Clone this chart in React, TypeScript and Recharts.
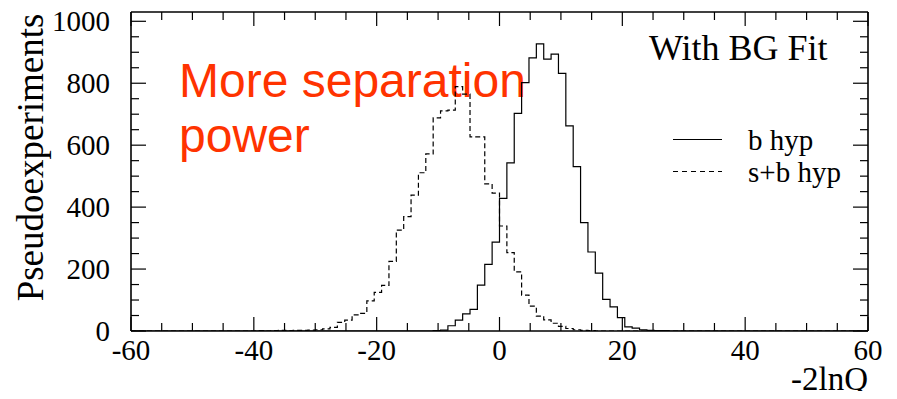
import React from 'react';
import { LineChart, Line, XAxis, YAxis } from 'recharts';

// histogram binning (100 bins from -60 to 60)
const xMin = -60;
const xMax = 60;
const binWidth = 1.2;
const nBins = 100;

// b hyp counts, first bin starts at -10.8
const bHypStart = -10.8;
const bHypCounts = [
  1, 3, 17, 35, 55, 70, 148, 215, 287,
  428, 543, 703, 802, 882, 927, 878, 894, 832, 662, 531, 350, 255, 187, 102, 78, 43, 13, 9, 4, 2, 1, 1,
];

// s+b hyp counts, first bin starts at -39.6
const sbHypStart = -39.6;
const sbHypCounts = [
  1, 0, 1, 2, 1, 2, 2, 3, 4, 7, 12, 28, 35, 52, 57, 97, 125, 147, 225, 326, 369, 439, 511, 572, 688, 711,
  713, 789, 765, 627, 627, 475, 445,
  339, 253, 191, 116, 80, 48, 36, 25, 15, 8, 4, 2, 1,
];

const seriesNames = ['b hyp', 's+b hyp'];

const xLabels = [-60, -40, -20, 0, 20, 40, 60];
const xMinorStep = 5;
const yLabels = [0, 200, 400, 600, 800, 1000];
const yMinorStep = 50;
const yMax = 1030;

const xTicks = Array.from({ length: (xMax - xMin) / xMinorStep + 1 }, (_, i) => xMin + i * xMinorStep);
const yTicks = Array.from({ length: 1000 / yMinorStep + 1 }, (_, i) => i * yMinorStep);

const firstBin = (start: number) => Math.round((start - xMin) / binWidth);

const data = Array.from({ length: nBins + 1 }, (_, i) => ({
  x: +(xMin + i * binWidth).toFixed(1),
  b: bHypCounts[i - firstBin(bHypStart)] ?? 0,
  sb: sbHypCounts[i - firstBin(sbHypStart)] ?? 0,
}));

const serif = '"Liberation Serif", "Times New Roman", serif';
const sans = '"Liberation Sans", Arial, sans-serif';
const tickColor = '#000';

const BottomTick = (props: any) => {
  const { x, y, payload } = props;
  const major = xLabels.includes(payload.value);
  return (
    <g>
      <line x1={x} x2={x} y1={y} y2={y - (major ? 14 : 8)} stroke={tickColor} strokeWidth={1.2} />
      {major && (
        <text x={x} y={y + 29} textAnchor="middle" fontSize={29} fontFamily={serif} fill="#000">
          {payload.value}
        </text>
      )}
    </g>
  );
};

// ticks on the top edge of the frame, pointing down
const TopTick = (props: any) => {
  const { x, y, payload } = props;
  const major = xLabels.includes(payload.value);
  return <line x1={x} x2={x} y1={y} y2={y + (major ? 14 : 8)} stroke={tickColor} strokeWidth={1.2} />;
};

const LeftTick = (props: any) => {
  const { x, y, payload } = props;
  const major = yLabels.includes(payload.value);
  return (
    <g>
      <line x1={x} x2={x + (major ? 15 : 8)} y1={y} y2={y} stroke={tickColor} strokeWidth={1.2} />
      {major && (
        <text x={x - 21} y={y + 10} textAnchor="end" fontSize={29} fontFamily={serif} fill="#000">
          {payload.value}
        </text>
      )}
    </g>
  );
};

const RightTick = (props: any) => {
  const { x, y, payload } = props;
  const major = yLabels.includes(payload.value);
  return <line x1={x} x2={x - (major ? 15 : 8)} y1={y} y2={y} stroke={tickColor} strokeWidth={1.2} />;
};

const axisLine = { stroke: '#000', strokeWidth: 1.6 };

const App: React.FC = () => {
  return (
    <div style={{ position: 'relative', width: 897, height: 399, margin: -8, background: '#fff' }}>
      <svg width={897} height={399} style={{ position: 'absolute', left: 0, top: 0 }}>
        <text x={179} y={97} fontSize={48} fontFamily={sans} fill="#ff3300">
          More separation
        </text>
        <text x={179} y={152} fontSize={48} fontFamily={sans} fill="#ff3300">
          power
        </text>
        <text x={649} y={60} fontSize={36} fontFamily={serif} fill="#000">
          With BG Fit
        </text>
        <line x1={673} x2={722} y1={139.5} y2={139.5} stroke="#000" strokeWidth={1.2} />
        <text x={748} y={150} fontSize={29} fontFamily={serif} fill="#000">
          {seriesNames[0]}
        </text>
        <line x1={673} x2={722} y1={171.5} y2={171.5} stroke="#000" strokeWidth={1.2} strokeDasharray="5 4" />
        <text x={748} y={182} fontSize={29} fontFamily={serif} fill="#000">
          {seriesNames[1]}
        </text>
        <text transform="translate(43,157.5) rotate(-90)" textAnchor="middle" fontSize={37} fontFamily={serif} fill="#000">
          Pseudoexperiments
        </text>
        <text x={868} y={390} textAnchor="end" fontSize={33} fontFamily={serif} fill="#000">
          -2lnQ
        </text>
      </svg>
      <LineChart
        width={897}
        height={399}
        data={data}
        margin={{ top: 11, right: 28, bottom: 28, left: 51 }}
      >
        <XAxis
          dataKey="x"
          type="number"
          domain={[xMin, xMax]}
          allowDataOverflow
          ticks={xTicks}
          interval={0}
          tickSize={0}
          tickMargin={0}
          height={40}
          axisLine={axisLine}
          tick={<BottomTick />}
        />
        <XAxis
          xAxisId="top"
          dataKey="x"
          orientation="top"
          type="number"
          domain={[xMin, xMax]}
          allowDataOverflow
          ticks={xTicks}
          interval={0}
          tickSize={0}
          tickMargin={0}
          height={1}
          axisLine={axisLine}
          tick={<TopTick />}
        />
        <YAxis
          type="number"
          domain={[0, yMax]}
          allowDataOverflow
          ticks={yTicks}
          interval={0}
          tickSize={0}
          tickMargin={0}
          width={80}
          axisLine={axisLine}
          tick={<LeftTick />}
        />
        <YAxis
          yAxisId="right"
          orientation="right"
          type="number"
          domain={[0, yMax]}
          allowDataOverflow
          ticks={yTicks}
          interval={0}
          tickSize={0}
          tickMargin={0}
          width={1}
          axisLine={axisLine}
          tick={<RightTick />}
        />
        <Line
          type="stepAfter"
          dataKey="b"
          name={seriesNames[0]}
          stroke="#000"
          strokeWidth={1.2}
          dot={false}
          activeDot={false}
          isAnimationActive={false}
        />
        <Line
          type="stepAfter"
          dataKey="sb"
          name={seriesNames[1]}
          stroke="#000"
          strokeWidth={1.2}
          strokeDasharray="5 3"
          dot={false}
          activeDot={false}
          isAnimationActive={false}
        />
        {/* invisible helper so the top and right frame axes get drawn */}
        <Line xAxisId="top" yAxisId="right" dataKey="b" stroke="none" dot={false} activeDot={false} legendType="none" isAnimationActive={false} />
      </LineChart>
    </div>
  );
};

export default App;
